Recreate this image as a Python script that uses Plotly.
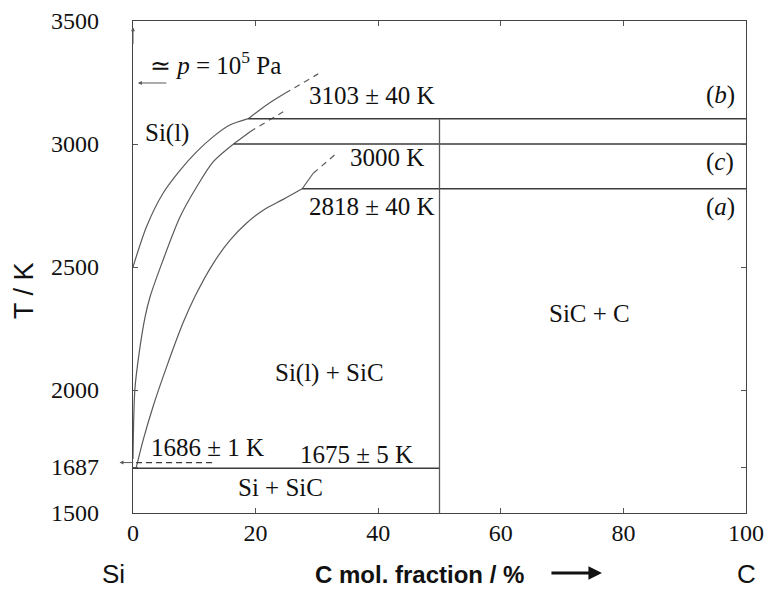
import plotly.graph_objects as go

# ---------------- data ----------------
# liquidus branches (C mol. fraction %, T in K)
curve_a_x = [0.5, 1.7, 3.3, 5.5, 8.2, 10.1, 13.1, 15.8, 18.5, 21.3, 24.5, 27.6]
curve_a_T = [1682, 1800, 1935, 2095, 2275, 2380, 2515, 2608, 2678, 2732, 2775, 2818]
curve_a_ext_x = [27.6, 29.4]
curve_a_ext_T = [2818, 2881]
curve_a_dash_x = [29.4, 33.2]
curve_a_dash_T = [2881, 2962]

curve_b_x = [0, 2.2, 4.9, 7.7, 10.4, 13.1, 15.8, 18.8]
curve_b_T = [2500, 2664, 2800, 2894, 2969, 3030, 3077, 3103]
curve_b_ext_x = [18.8, 21.8, 24.8]
curve_b_ext_T = [3103, 3159, 3206]
curve_b_dash_x = [24.8, 30.2]
curve_b_dash_T = [3206, 3285]

curve_c_x = [0, 0.3, 1.0, 2.0, 2.8, 4.9, 7.7, 10.4, 13.1, 16.4]
curve_c_T = [1720, 2000, 2150, 2300, 2380, 2528, 2705, 2826, 2928, 3000]
curve_c_ext_x = [16.4, 19.1]
curve_c_ext_T = [3000, 3050]
curve_c_dash_x = [19.1, 24.5]
curve_c_dash_T = [3050, 3131]

# peritectic / decomposition isotherms
iso_b_x = [18.8, 100]
iso_b_T = [3103, 3103]
iso_c_x = [16.4, 100]
iso_c_T = [3000, 3000]
iso_a_x = [27.6, 100]
iso_a_T = [2818, 2818]
# eutectic line and Si melting point (dashed)
eutectic_x = [0, 50]
eutectic_T = [1682, 1682]
si_melt_x = [0.5, 13.4]
si_melt_T = [1705, 1705]
# SiC compound line
sic_x = [50, 50]
sic_T = [1500, 3103]

x_ticks = [0, 20, 40, 60, 80, 100]
y_ticks = [1500, 1687, 2000, 2500, 3000, 3500]

LINE = "#5a5a5a"
HLINE = "#3c3c3c"
SERIF = "Liberation Serif, Times New Roman, serif"
SANS = "Liberation Sans, Arial, sans-serif"

fig = go.Figure()


def add_line(x, y, color=LINE, width=1.2, dash="solid", shape="spline"):
    fig.add_trace(go.Scatter(x=x, y=y, mode="lines", showlegend=False,
                             hoverinfo="skip", cliponaxis=False,
                             line=dict(color=color, width=width, dash=dash,
                                       shape=shape, smoothing=0.8)))


for xs, ts in [(curve_a_x, curve_a_T), (curve_b_x, curve_b_T), (curve_c_x, curve_c_T)]:
    add_line(xs, ts)
for xs, ts in [(curve_a_ext_x, curve_a_ext_T), (curve_b_ext_x, curve_b_ext_T),
               (curve_c_ext_x, curve_c_ext_T)]:
    add_line(xs, ts)
for xs, ts in [(curve_a_dash_x, curve_a_dash_T), (curve_b_dash_x, curve_b_dash_T),
               (curve_c_dash_x, curve_c_dash_T)]:
    add_line(xs, ts, dash="6px,5px")

for xs, ts in [(iso_b_x, iso_b_T), (iso_c_x, iso_c_T), (iso_a_x, iso_a_T),
               (eutectic_x, eutectic_T)]:
    add_line(xs, ts, color=HLINE, width=1.5, shape="linear")
add_line(sic_x, sic_T, color=LINE, width=1.3, shape="linear")
add_line(si_melt_x, si_melt_T, color=HLINE, width=1.2, dash="6px,4px", shape="linear")

# ---------------- annotations ----------------
def txt(x, y, s, size=25, font=SERIF, xref="x", yref="y", **kw):
    fig.add_annotation(x=x, y=y, xref=xref, yref=yref, text=s, showarrow=False,
                       xanchor="center", yanchor="middle",
                       font=dict(family=font, size=size, color="#111"), **kw)


txt(39.0, 3199, "3103 ± 40 K")
txt(41.4, 2947, "3000 K")
txt(39.0, 2744, "2818 ± 40 K")
txt(95.9, 3199, "(<i>b</i>)")
txt(95.8, 2927, "(<i>c</i>)")
txt(95.8, 2744, "(<i>a</i>)")
txt(74.4, 2313, "SiC + C")
txt(32.0, 2069, "Si(l) + SiC")
txt(5.5, 3045, "Si(l)")
txt(13.4, 3329, "≃ <i>p</i> = 10<sup>5</sup> Pa")
txt(12.1, 1768, "1686 ± 1 K")
txt(36.5, 1736, "1675 ± 5 K")
txt(24.0, 1602, "Si + SiC")

# pressure arrow
fig.add_annotation(x=0.8, y=3248, ax=5.7, ay=3248, xref="x", yref="y",
                   axref="x", ayref="y", showarrow=True, arrowhead=2,
                   arrowsize=0.8, arrowwidth=1, arrowcolor=LINE, text="")
# arrow at 1687 on the axis
fig.add_annotation(x=-2.2, y=1705, ax=0.3, ay=1705, xref="x", yref="y",
                   axref="x", ayref="y", showarrow=True, arrowhead=2,
                   arrowsize=0.8, arrowwidth=1, arrowcolor=LINE, text="")
# arrowhead at top of the T axis
fig.add_annotation(x=0, y=3475, ax=0, ay=3400, xref="x", yref="y",
                   axref="x", ayref="y", showarrow=True, arrowhead=2,
                   arrowsize=0.8, arrowwidth=1, arrowcolor=LINE, text="")

# axis titles and end labels (paper coordinates)
txt(-0.178, 0.453, "T / K", size=27, font=SANS, xref="paper", yref="paper",
    textangle=-90)
txt(0.468, -0.126, "<b>C mol. fraction / %</b>", size=24, font=SANS,
    xref="paper", yref="paper")
txt(-0.031, -0.124, "Si", size=26, font=SANS, xref="paper", yref="paper")
txt(1.0016, -0.124, "C", size=26, font=SANS, xref="paper", yref="paper")
fig.add_annotation(x=0.765, y=-0.122, xref="paper", yref="paper", ax=-52, ay=0,
                   showarrow=True, arrowhead=2, arrowsize=0.9, arrowwidth=3,
                   arrowcolor="#111", text="")

axis_common = dict(showgrid=False, zeroline=False, showline=True, linecolor="#444",
                   linewidth=1.3, mirror="ticks", ticks="inside", ticklen=5,
                   tickcolor="#555", tickwidth=1, automargin=False,
                   tickfont=dict(family=SERIF, size=24, color="#111"))
fig.update_xaxes(range=[0, 100], tickvals=x_ticks, ticklabelstandoff=-2, **axis_common)
fig.update_yaxes(range=[1500, 3500], tickvals=y_ticks, ticklabelstandoff=28,
                 **axis_common)

fig.update_layout(width=765, height=591, margin=dict(l=133, r=19, t=21, b=78),
                  plot_bgcolor="white", paper_bgcolor="white")

fig.write_html("out.html")
